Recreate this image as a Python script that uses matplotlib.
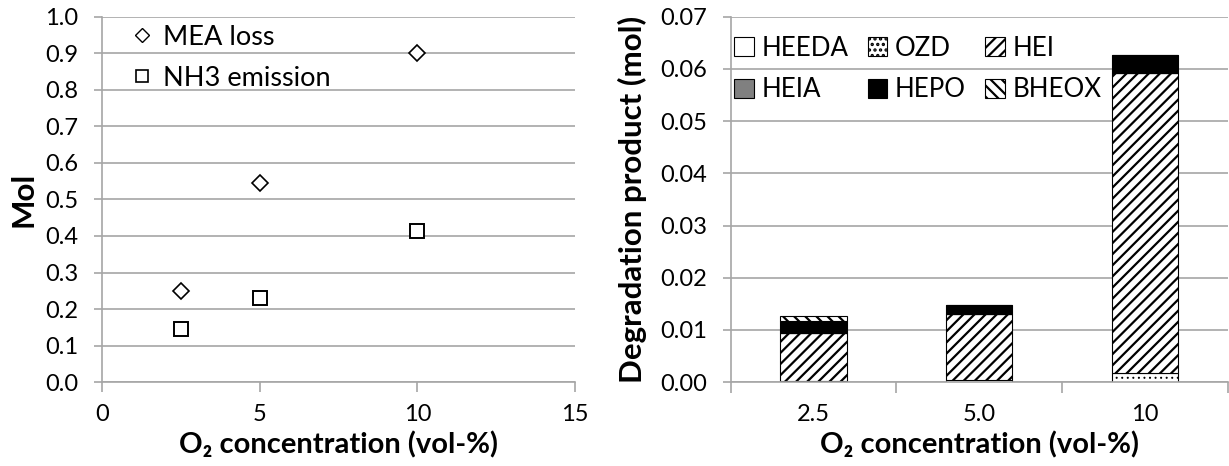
import matplotlib
matplotlib.use("Agg")
import matplotlib.pyplot as plt
from matplotlib.lines import Line2D
from matplotlib.patches import Patch
import numpy as np

plt.rcParams['font.family'] = ['Lato', 'DejaVu Sans']
plt.rcParams['hatch.linewidth'] = 1.6

# left panel: scatter
o2_conc = [2.5, 5, 10]
mea_loss = [0.25, 0.545, 0.90]
nh3_emission = [0.145, 0.23, 0.415]

# right panel: stacked bars
categories = ['2.5', '5.0', '10']
heeda = [0.0, 0.0, 0.0]
ozd = [0.0003, 0.0005, 0.0018]
hei = [0.0092, 0.0125, 0.0574]
heia = [0.0, 0.0, 0.0]
hepo = [0.0022, 0.0018, 0.0034]
bheox = [0.0009, 0.0, 0.0]

GRID = '#a6a6a6'
TICK_FS = 17
XLABEL_FS = 21
YLABEL_FS = 22.5

fig = plt.figure(figsize=(12.29, 4.66), dpi=100)
ax1 = fig.add_axes([0.0828, 0.180, 0.3852, 0.784])
ax2 = fig.add_axes([0.5946, 0.180, 0.4044, 0.784])


def style_axes(ax):
    for s in ['top', 'right']:
        ax.spines[s].set_visible(False)
    for s in ['left', 'bottom']:
        ax.spines[s].set_color(GRID)
        ax.spines[s].set_linewidth(1.2)
    ax.yaxis.grid(True, color=GRID, linewidth=1.2)
    ax.set_axisbelow(True)
    ax.tick_params(axis='y', direction='out', length=6, color=GRID, width=1.2,
                   labelsize=TICK_FS, pad=11)


# ---- left
style_axes(ax1)
ax1.plot(o2_conc, mea_loss, linestyle='none', marker='D', markersize=8.5,
         markerfacecolor='white', markeredgecolor='black', markeredgewidth=1.2)
ax1.plot(o2_conc, nh3_emission, linestyle='none', marker='s', markersize=10,
         markerfacecolor='white', markeredgecolor='black', markeredgewidth=1.4)
ax1.set_xlim(0, 15)
ax1.set_ylim(0, 1.0)
ax1.set_xticks([0, 5, 10, 15])
ax1.set_yticks(np.arange(0, 1.01, 0.1))
ax1.set_yticklabels(['%.1f' % v for v in np.arange(0, 1.01, 0.1)])
ax1.tick_params(axis='x', direction='out', length=7, color=GRID, width=1.2,
                labelsize=TICK_FS, pad=9)
ax1.set_ylabel('Mol', fontsize=YLABEL_FS, fontweight='bold')
ax1.yaxis.set_label_coords(-0.135, 0.5)
ax1.set_xlabel('O₂ concentration (vol-%)', fontsize=XLABEL_FS, fontweight='bold', labelpad=4)

h1 = [Line2D([], [], linestyle='none', marker='D', markersize=7, markerfacecolor='white',
             markeredgecolor='black', markeredgewidth=1.0),
      Line2D([], [], linestyle='none', marker='s', markersize=9, markerfacecolor='white',
             markeredgecolor='black', markeredgewidth=1.2)]
ax1.legend(h1, ['MEA loss', 'NH3 emission'], loc='upper left', bbox_to_anchor=(0.0, 1.045),
           frameon=False, fontsize=19.5, handletextpad=0.15, labelspacing=0.6,
           handlelength=1.2)

# ---- right
style_axes(ax2)
x = np.arange(len(categories))
series = [
    ('HEEDA', heeda, 'white', None),
    ('OZD', ozd, 'white', '...'),
    ('HEI', hei, 'white', '///'),
    ('HEIA', heia, '#808080', None),
    ('HEPO', hepo, 'black', None),
    ('BHEOX', bheox, 'white', '\\\\\\'),
]
bottom = np.zeros(len(categories))
handles = []
for name, vals, fc, hatch in series:
    hlw = 0.7 if name == 'OZD' else 1.6
    with plt.rc_context({'hatch.linewidth': hlw}):
        ax2.bar(x, vals, 0.4, bottom=bottom, color=fc, edgecolor='black', hatch=hatch,
                linewidth=0.8)
        handles.append(Patch(facecolor=fc, edgecolor='black', hatch=hatch, linewidth=0.8,
                             label=name))
    bottom += np.array(vals)

ax2.set_xlim(-0.5, 2.5)
ax2.set_ylim(0, 0.07)
ax2.set_yticks(np.arange(0, 0.0701, 0.01))
ax2.set_yticklabels(['%.2f' % v for v in np.arange(0, 0.0701, 0.01)])
ax2.set_xticks(x)
ax2.set_xticklabels(categories)
ax2.set_xticks([-0.5, 0.5, 1.5, 2.5], minor=True)
ax2.tick_params(axis='x', which='major', length=0, labelsize=TICK_FS, pad=16)
ax2.tick_params(axis='x', which='minor', direction='out', length=8, color=GRID, width=1.2)
ax2.set_ylabel('Degradation product (mol)', fontsize=YLABEL_FS, fontweight='bold')
ax2.yaxis.set_label_coords(-0.168, 0.5)
ax2.set_xlabel('O₂ concentration (vol-%)', fontsize=XLABEL_FS, fontweight='bold', labelpad=4)

# legend drawn row by row (HEEDA OZD HEI / HEIA HEPO BHEOX)
order = [0, 3, 1, 4, 2, 5]
ax2.legend([handles[i] for i in order], [handles[i].get_label() for i in order],
           loc='upper left', bbox_to_anchor=(-0.04, 1.012), ncol=3, frameon=False,
           fontsize=18.6, handlelength=0.75, handleheight=0.75, handletextpad=0.3,
           columnspacing=0.75, labelspacing=0.65)

fig.savefig('out.png', dpi=100)
